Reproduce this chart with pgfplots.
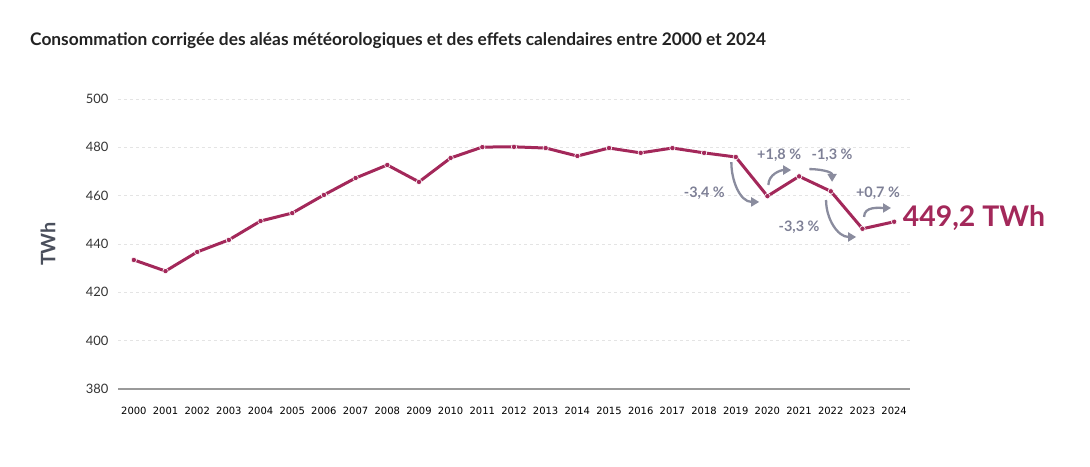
\documentclass[border=0pt]{standalone}
\usepackage{pgfplots}
\pgfplotsset{compat=1.18}
\usepackage{fontspec}
\setmainfont{Lato}
\newfontfamily\dejavu{DejaVu Sans}
\usetikzlibrary{arrows.meta}
\definecolor{linec}{HTML}{A3285A}
\definecolor{annc}{HTML}{7E8096}
\definecolor{arrc}{HTML}{8A8C9E}
\definecolor{gridc}{HTML}{E4E4E4}
\definecolor{axc}{HTML}{9A9A9A}
\definecolor{titlec}{HTML}{222222}
\definecolor{ylabc}{HTML}{4A4F5C}
\begin{document}
\begin{tikzpicture}[x=1bp,y=1bp]
\useasboundingbox (0,0) rectangle (1090,467);
\node[anchor=base west, font=\bfseries\fontsize{17.4}{20}\selectfont, text=titlec, inner sep=0] at (30,421) {Consommation corrigée des aléas météorologiques et des effets calendaires entre 2000 et 2024};
\node[rotate=90, font=\bfseries\fontsize{20}{22}\selectfont, text=ylabc, inner sep=0] at (48,223) {TWh};
\begin{axis}[
  at={(118bp,78bp)}, anchor=south west,
  scale only axis, width=792bp, height=290bp,
  xmin=1999.5, xmax=2024.5, ymin=380, ymax=500,
  xtick={2000,...,2024}, ytick={380,400,...,500},
  /pgf/number format/1000 sep={},
  /pgf/number format/assume math mode=true,
  axis x line*=bottom, axis y line*=left,
  y axis line style={draw=none},
  x axis line style={draw=axc, line width=1.2bp},
  major tick length=0pt,
  ymajorgrids, grid style={gridc, dashed, line width=0.8bp},
  xticklabel style={font=\dejavu\fontsize{10}{12}\selectfont, text=black},
  yticklabel style={font=\fontsize{13}{15}\selectfont, text=black!80},
  x tick label style={yshift=-15bp},
  y tick label style={xshift=-6bp},
  clip=false,
]
\addplot[linec, line width=3bp, mark=*, mark size=2.7bp,
  mark options={fill=linec, draw=white, line width=0.6bp}] coordinates {
(2000,433.4) (2001,428.8) (2002,436.7) (2003,441.7) (2004,449.5)
(2005,452.8) (2006,460.3) (2007,467.3) (2008,472.7) (2009,465.7)
(2010,475.6) (2011,480.1) (2012,480.2) (2013,479.7) (2014,476.4)
(2015,479.7) (2016,477.7) (2017,479.7) (2018,477.7) (2019,476.0)
(2020,459.8) (2021,468.0) (2022,461.8) (2023,446.3) (2024,449.2)
};
\tikzset{ann/.style={font=\bfseries\fontsize{14.5}{16}\selectfont, text=annc, inner sep=0},
         arr/.style={draw=arrc, line width=2.3bp, -{Triangle[length=8bp,width=9bp]}}}
\node[ann] at (axis cs:2018.01,461.1) {-3,4 \%};
\draw[arr] (axis cs:2018.86,473.9) to[out=-90,in=180] (axis cs:2019.74,457.4);
\node[ann] at (axis cs:2020.37,476.8) {+1,8 \%};
\draw[arr] (axis cs:2020.03,464.4) to[out=90,in=180] (axis cs:2020.75,470.6);
\node[ann] at (axis cs:2022.04,476.8) {-1,3 \%};
\draw[arr] (axis cs:2021.32,471.0) to[out=0,in=90] (axis cs:2022.04,465.7);
\node[ann] at (axis cs:2023.49,461.1) {+0,7 \%};
\draw[arr] (axis cs:2023.05,451.2) to[out=90,in=180] (axis cs:2023.90,454.9);
\node[ann] at (axis cs:2021.0,447.0) {-3,3 \%};
\draw[arr] (axis cs:2021.85,458.2) to[out=-90,in=180] (axis cs:2022.80,442.9);
\node[anchor=west, font=\bfseries\fontsize{28.5}{32}\selectfont, text=linec, inner sep=0] at (axis cs:2024.27,450.6) {449,2 TWh};
\end{axis}
\end{tikzpicture}
\end{document}
